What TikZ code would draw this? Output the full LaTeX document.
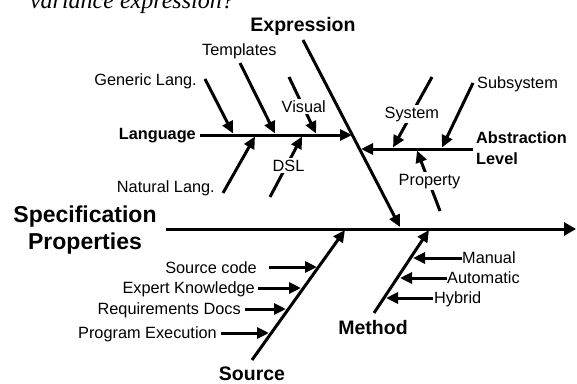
\documentclass[tikz,border=0pt]{standalone}
\usepackage{fontspec}
\setmainfont{Liberation Sans}
\newfontfamily\serifit{Liberation Serif}
\usetikzlibrary{arrows.meta}

\begin{document}
\begin{tikzpicture}[x=1pt,y=-1pt,
  bone/.style={line width=3pt,-{Triangle[length=12pt,width=11pt]}},
  spine/.style={line width=3pt,-{Triangle[length=12pt,width=13pt]}},
  lbl/.style={font=\fontsize{16.3}{18}\selectfont,inner sep=0pt},
  cover/.style={lbl,fill=white,inner sep=1.5pt},
  grp/.style={font=\fontsize{16.3}{19}\selectfont\bfseries,inner sep=0pt},
  hdr/.style={font=\fontsize{19.5}{22}\selectfont\bfseries,inner sep=0pt},
  title/.style={font=\fontsize{23}{27}\selectfont\bfseries,inner sep=0pt}]
\clip (0,0) rectangle (577,383);

% caption running above the figure
\node[font=\fontsize{24}{26}\selectfont\serifit\itshape,inner sep=0pt,anchor=base east] (cap) at (234,8) {variance expression?};

% main spine
\node[title,anchor=base] (spec) at (85,222) {Specification};
\node[title,anchor=base] (props) at (85,249) {Properties};
\coordinate (spL) at (166,229);
\coordinate (spR) at (576,229);
\draw[spine] (spL) -- (spR);

% Expression branch
\node[hdr,anchor=base] (expr) at (303,31) {Expression};
\coordinate (exT) at (303,40);
\coordinate (exB) at (400,227);
\draw[bone] (exT) -- (exB);

% Language bone
\node[grp,anchor=base east] (lang) at (196,139) {Language};
\coordinate (lgL) at (200,135);
\coordinate (lgR) at (352,135);
\draw[bone] (lgL) -- (lgR);

\coordinate (g0) at (205,79);  \coordinate (g1) at (233,133.5);
\coordinate (t0) at (240,63);  \coordinate (t1) at (275,133.5);
\coordinate (v0) at (289,77);  \coordinate (v1) at (316,133.5);
\coordinate (n0) at (223,193); \coordinate (n1) at (255,136.5);
\coordinate (d0) at (270,197); \coordinate (d1) at (302,136.5);
\draw[bone] (g0) -- (g1);
\draw[bone] (t0) -- (t1);
\draw[bone] (v0) -- (v1);
\draw[bone] (n0) -- (n1);
\draw[bone] (d0) -- (d1);
\node[lbl,anchor=base east] (generic) at (197,85) {Generic Lang.};
\node[lbl,anchor=base west] (templ) at (202,55) {Templates};
\node[lbl,anchor=base east] (natural) at (215,192) {Natural Lang.};
\node[cover,anchor=base west] (visual) at (280,112) {Visual};
\node[cover,anchor=base west] (dsl) at (271,171) {DSL};

% Abstraction Level bone
\node[grp,anchor=base west] (abs) at (476,143) {Abstraction};
\node[grp,anchor=base west] (lvl) at (476,164) {Level};
\coordinate (abR) at (473,149);
\coordinate (abL) at (361,149);
\draw[bone] (abR) -- (abL);

\coordinate (sy0) at (432,77);  \coordinate (sy1) at (393,147.5);
\coordinate (ss0) at (473,83);  \coordinate (ss1) at (442,147.5);
\coordinate (pr0) at (440,211); \coordinate (pr1) at (417,150.5);
\draw[bone] (sy0) -- (sy1);
\draw[bone] (ss0) -- (ss1);
\draw[bone] (pr0) -- (pr1);
\node[cover,anchor=base west] (system) at (383,118) {System};
\node[lbl,anchor=base west] (subsys) at (477,88) {Subsystem};
\node[cover,anchor=base west] (prop) at (397,185) {Property};

% Source branch
\node[hdr,anchor=base] (src) at (252,380) {Source};
\coordinate (soB) at (252,360);
\coordinate (soT) at (345,230);
\draw[bone] (soB) -- (soT);

\node[lbl,anchor=base east] (code) at (257,273) {Source code};
\node[lbl,anchor=base east] (expert) at (255,293) {Expert Knowledge};
\node[lbl,anchor=base east] (reqs) at (241,314) {Requirements Docs};
\node[lbl,anchor=base east] (prog) at (217,338) {Program Execution};
\coordinate (c0) at (269,267); \coordinate (c1) at (317,267);
\coordinate (e0) at (258,288); \coordinate (e1) at (301,288);
\coordinate (r0) at (245,309); \coordinate (r1) at (286,309);
\coordinate (p0) at (221,333); \coordinate (p1) at (269,333);
\draw[bone] (c0) -- (c1);
\draw[bone] (e0) -- (e1);
\draw[bone] (r0) -- (r1);
\draw[bone] (p0) -- (p1);

% Method branch
\node[hdr,anchor=base] (meth) at (373,334) {Method};
\coordinate (meB) at (374,313);
\coordinate (meT) at (429,230);
\draw[bone] (meB) -- (meT);

\node[lbl,anchor=base west] (manual) at (462,263) {Manual};
\node[lbl,anchor=base west] (auto) at (447,283) {Automatic};
\node[lbl,anchor=base west] (hybrid) at (434,303) {Hybrid};
\coordinate (m0) at (462,258); \coordinate (m1) at (413,258);
\coordinate (a0) at (447,278); \coordinate (a1) at (400,278);
\coordinate (h0) at (433,298); \coordinate (h1) at (386,298);
\draw[bone] (m0) -- (m1);
\draw[bone] (a0) -- (a1);
\draw[bone] (h0) -- (h1);
\end{tikzpicture}
\end{document}
